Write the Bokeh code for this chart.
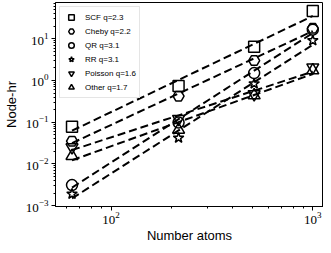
import numpy as np
from bokeh.plotting import figure
from bokeh.models import Range1d, Legend, LegendItem, FixedTicker, LogTickFormatter
from bokeh.embed import file_html
from bokeh.resources import INLINE

atoms = [64, 216, 512, 1000]
scf = [0.078, 0.74, 6.4, 46.0]
cheby = [0.035, 0.42, 3.0, 17.8]
qr = [0.0031, 0.098, 1.5, 16.5]
rr = [0.0019, 0.042, 0.84, 9.1]
poisson = [0.025, 0.12, 0.47, 2.05]
other = [0.0155, 0.066, 0.44, 1.75]

names = ["SCF q=2.3", "Cheby q=2.2", "QR q=3.1", "RR q=3.1", "Poisson q=1.6", "Other q=1.7"]
series = [scf, cheby, qr, rr, poisson, other]
markers = ["square", "hex", "circle", "star", "inverted_triangle", "triangle"]
sizes = [11, 11, 11, 11, 12, 12]

x_major = [100, 1000]
x_minor = [60, 70, 80, 90, 200, 300, 400, 500, 600, 700, 800, 900]

p = figure(width=323, height=245, x_axis_type="log", y_axis_type="log",
           x_range=Range1d(53, 1130), y_range=Range1d(0.00095, 74),
           output_backend="svg", toolbar_location=None,
           min_border_left=49, min_border_right=0, min_border_top=2, min_border_bottom=36)
p.grid.visible = False
p.outline_line_color = "black"
p.outline_line_width = 1
p.background_fill_color = "white"

p.xaxis.ticker = FixedTicker(ticks=x_major, minor_ticks=x_minor)
p.xaxis.formatter = LogTickFormatter()

lx = np.log10(atoms)
for ys in series:
    k, b = np.polyfit(lx, np.log10(ys), 1)
    fit = [10 ** (k * v + b) for v in lx]
    p.line(atoms, fit, line_color="black", line_width=2, line_dash="8 4")

items = []
for name, ys, m, s in zip(names, series, markers, sizes):
    r = p.scatter(atoms, ys, marker=m, size=s, fill_alpha=0, line_color="black", line_width=1.5)
    items.append(LegendItem(label=name, renderers=[r]))

leg = Legend(items=items, location="top_left")
leg.label_text_font = "Liberation Sans"
leg.label_text_font_size = "8px"
leg.label_text_color = "black"
leg.glyph_height = 14
leg.glyph_width = 16
leg.label_height = 14
leg.spacing = 0
leg.padding = 3
leg.margin = 4
leg.label_standoff = 6
leg.border_line_color = "#cccccc"
leg.border_line_width = 1
p.add_layout(leg)

for ax in (p.xaxis[0], p.yaxis[0]):
    ax.major_tick_out = 4
    ax.major_tick_in = 0
    ax.minor_tick_out = 2
    ax.minor_tick_in = 0
    ax.axis_line_color = "black"
    ax.major_label_text_font = "Liberation Serif"
    ax.major_label_text_font_size = "13px"
    ax.major_label_text_color = "black"
    ax.major_label_standoff = 1
    ax.axis_label_text_font = "Liberation Sans"
    ax.axis_label_text_font_size = "13px"
    ax.axis_label_text_font_style = "normal"
    ax.axis_label_text_color = "black"
    ax.axis_label_standoff = 1
p.xaxis.axis_label = "Number atoms"
p.yaxis.axis_label = "Node-hr"
p.yaxis.major_label_standoff = 3
p.yaxis.axis_label_standoff = 4

open("out.html", "w").write(file_html(p, INLINE))
